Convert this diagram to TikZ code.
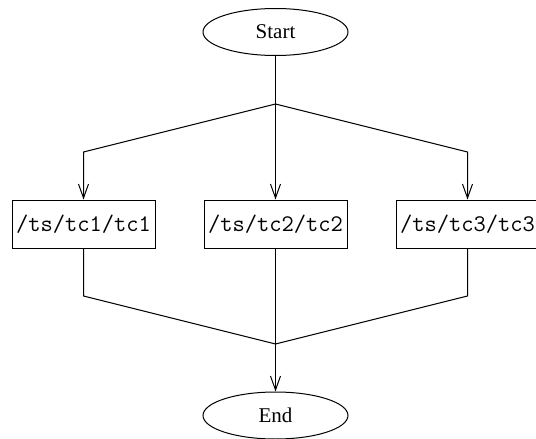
\documentclass[tikz,border=0pt]{standalone}
\usepackage{fontspec}
\setmainfont{Liberation Serif}
\setmonofont{Latin Modern Mono}
\usepackage{tikz}
\usetikzlibrary{arrows.meta}
\usetikzlibrary{shapes.geometric}
\tikzset{
    terminal/.style={
           ellipse,
           draw=black, line width=1pt,
           minimum width=145pt,
           minimum height=47pt,
           inner sep=0pt,
           font=\fontsize{21}{25}\selectfont,
           },
    block/.style={
           rectangle,
           draw=black, line width=1pt,
           minimum width=143pt,
           minimum height=48pt,
           inner sep=0pt,
           text centered,
           font=\fontsize{23.8}{28}\selectfont\ttfamily,
           },
    flow/.style={
           line width=1pt,
           },
}

\begin{document}
\begin{tikzpicture}[x=1pt,y=1pt]
	\useasboundingbox (0,0) rectangle (536,-439);
	\tikzset{arr/.style={flow,-{Straight Barb[length=14pt,width=10pt]}},};

	\node[terminal] (start) at (275.5,-32) {Start};
	\node[block] (tc1) at (83.5,-224) {/ts/tc1/tc1};
	\node[block] (tc2) at (275.5,-224) {/ts/tc2/tc2};
	\node[block] (tc3) at (467.5,-224) {/ts/tc3/tc3};
	\node[terminal] (end) at (275.5,-415.5) {End};

	%fork and join points
	\coordinate (split) at (275.5,-104);
	\coordinate (f1) at (83.5,-152);
	\coordinate (f3) at (467.5,-152);
	\coordinate (j1) at (83.5,-296);
	\coordinate (j3) at (467.5,-296);
	\coordinate (join) at (275.5,-344);

	%EDGES
	\draw[flow] (start) -- (split);
	\draw[arr] (split) -- (f1) -- (tc1);
	\draw[arr] (split) -- (tc2);
	\draw[arr] (split) -- (f3) -- (tc3);

	\draw[flow] (tc1) -- (j1) -- (join);
	\draw[flow] (tc3) -- (j3) -- (join);
	\draw[flow] (tc2) -- (join);
	\draw[arr] (join) -- (end);
\end{tikzpicture}
\end{document}
